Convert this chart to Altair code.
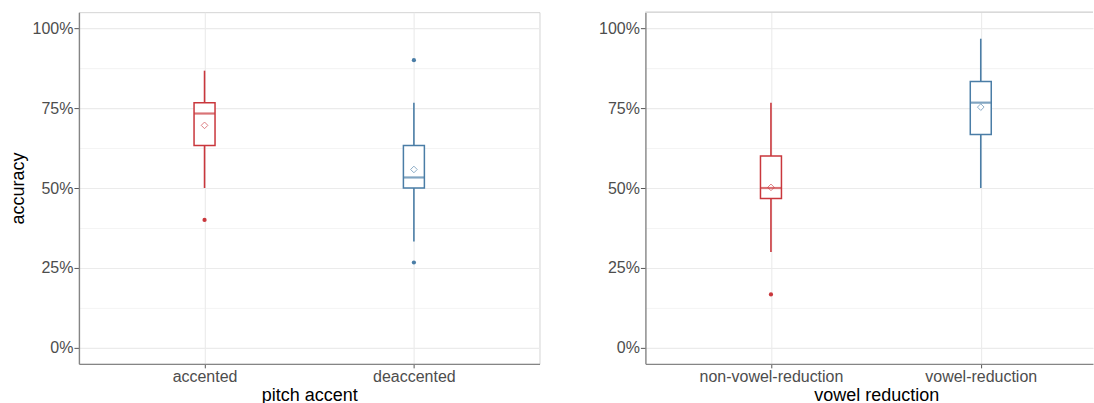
import altair as alt
import pandas as pd

# ---- data ----
left_groups = ["accented", "deaccented"]
left_low = [0.500, 0.333]
left_q1 = [0.633, 0.500]
left_median = [0.733, 0.533]
left_q3 = [0.767, 0.633]
left_high = [0.867, 0.767]
left_mean = [0.696, 0.558]
left_out_group = ["accented", "deaccented", "deaccented"]
left_out_value = [0.400, 0.900, 0.267]

right_groups = ["non-vowel-reduction", "vowel-reduction"]
right_low = [0.300, 0.500]
right_q1 = [0.467, 0.667]
right_median = [0.500, 0.767]
right_q3 = [0.600, 0.833]
right_high = [0.767, 0.967]
right_mean = [0.502, 0.753]
right_out_group = ["non-vowel-reduction"]
right_out_value = [0.167]

y_ticks = [0, 0.125, 0.25, 0.375, 0.5, 0.625, 0.75, 0.875, 1.0]
box_colors = ["#C9373C", "#4A7DA6"]
point_colors = ["#B8282E", "#3B6E98"]

FONT = "Liberation Sans"
MINOR = "datum.value % 0.25 != 0"


def panel(groups, low, q1, med, q3, high, mean, og, ov, xtitle, ytitle, width,
          pad, align, title_x, top_rule):
    stats = pd.DataFrame({"g": groups, "low": low, "q1": q1, "med": med,
                          "q3": q3, "high": high, "mean": mean})
    outs = pd.DataFrame({"g": og, "v": ov})

    xscale = alt.Scale(type="point", domain=groups, padding=pad, align=align)
    yscale = alt.Scale(domain=[-0.05, 1.05], nice=False, zero=False)
    col = alt.Color("g:N", scale=alt.Scale(domain=groups, range=box_colors), legend=None)
    pcol = alt.Color("g:N", scale=alt.Scale(domain=groups, range=point_colors), legend=None)

    xaxis = alt.Axis(title=xtitle, grid=True, gridColor="#EBEBEB", gridWidth=1.1,
                     domainColor="#858585", domainWidth=1.4, tickColor="#555555",
                     tickSize=4, labelPadding=1, titlePadding=2, labelAngle=0,
                     titleX=title_x)
    yaxis_kw = dict(values=y_ticks, format=".0%",
                    labelExpr="datum.value % 0.25 == 0 ? datum.label : ''",
                    grid=True, gridColor="#EBEBEB",
                    gridWidth={"condition": {"test": MINOR, "value": 0.6}, "value": 1.1},
                    tickOpacity={"condition": {"test": MINOR, "value": 0}, "value": 1},
                    domainColor="#858585", domainWidth=1.4, tickColor="#555555",
                    tickSize=5, labelPadding=1, titlePadding=5)
    if ytitle:
        yaxis = alt.Axis(title=ytitle, **yaxis_kw)
    else:
        yaxis = alt.Axis(title=None, **yaxis_kw)

    base = alt.Chart(stats)
    whisk = base.mark_rule(strokeWidth=1.6).encode(
        x=alt.X("g:N", scale=xscale, axis=xaxis, sort=groups),
        y=alt.Y("low:Q", scale=yscale, axis=yaxis),
        y2="high:Q", color=col)
    box = base.mark_bar(size=21, fill="white", strokeWidth=1.5).encode(
        x=alt.X("g:N", sort=groups), y="q1:Q", y2="q3:Q", stroke=col)
    median = base.mark_tick(size=21, thickness=2.2).encode(
        x=alt.X("g:N", sort=groups), y="med:Q", color=col)
    meanpt = base.mark_point(shape="diamond", filled=False, size=44, strokeWidth=0.9).encode(
        x=alt.X("g:N", sort=groups), y="mean:Q", color=col)
    outl = alt.Chart(outs).mark_circle(size=18, opacity=1).encode(
        x=alt.X("g:N", sort=groups), y="v:Q", color=pcol)

    layers = [whisk, box, median, meanpt, outl]
    if top_rule:
        top = alt.Chart(stats).mark_rule(color="#D4D4D4", strokeWidth=1).encode(
            x=alt.value(0), x2=alt.value(width), y=alt.value(0))
        layers.append(top)
        view = alt.ViewBackground(stroke=None)
    else:
        view = alt.ViewBackground(stroke="#D4D4D4", strokeWidth=1)
    return alt.layer(*layers).properties(width=width, height=352, view=view)


left = panel(left_groups, left_low, left_q1, left_median, left_q3, left_high, left_mean,
             left_out_group, left_out_value, "pitch accent", "accuracy", 461,
             0.6, 0.5, 230.5, False)
right = panel(right_groups, right_low, right_q1, right_median, right_q3, right_high, right_mean,
              right_out_group, right_out_value, "vowel reduction", None, 448,
              0.5667, 0.528, 231, True)

chart = alt.hconcat(left, right, spacing=106, bounds="flush").resolve_scale(
    color="independent", stroke="independent", x="independent"
).properties(
    padding={"left": 8, "top": 11, "right": 0, "bottom": 0},
    background="white",
).configure_axis(
    labelFont=FONT, labelFontSize=16, labelColor="#4D4D4D",
    titleFont=FONT, titleFontSize=18, titleColor="#000000", titleFontWeight="normal",
)

chart.save("out.html", embed_options={"renderer": "svg", "actions": False})
